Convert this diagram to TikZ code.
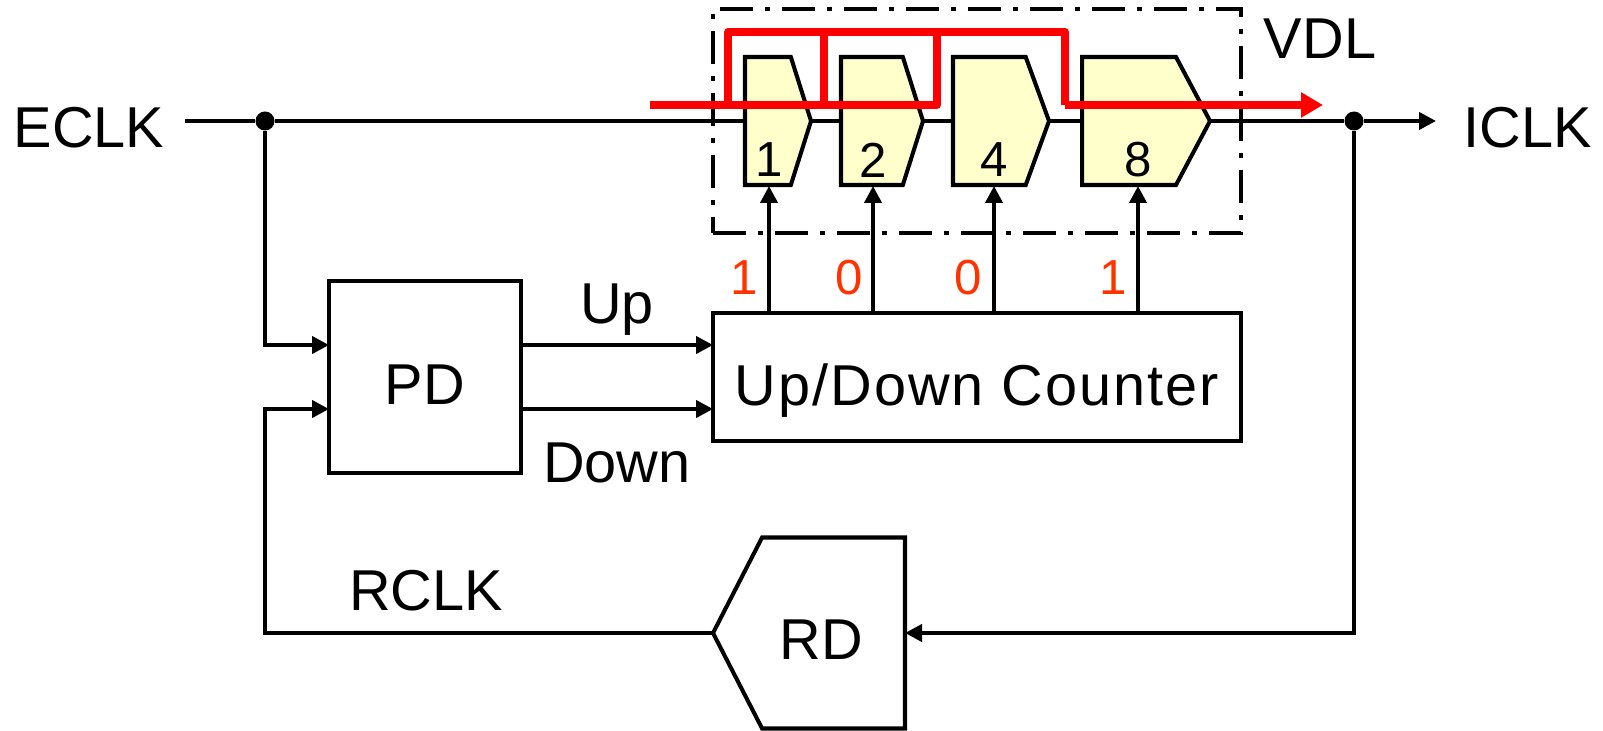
\documentclass[tikz,border=0pt]{standalone}
\usepackage{fontspec}
\setmainfont{Liberation Sans}
\usetikzlibrary{arrows.meta,shapes.symbols}
\definecolor{delayfill}{HTML}{FFFFCC}
\definecolor{bitred}{HTML}{FF3300}
\tikzset{
    wire/.style={line width=1.15pt, -{Triangle[length=1.7mm,width=1.7mm]}},
    plain/.style={line width=1.15pt},
    block/.style={draw, line width=1.15pt, inner sep=0pt, outer sep=0pt},
    delay/.style={block, fill=delayfill, signal, signal to=east, signal from=nowhere,
        minimum height=1.28cm, anchor=west},
    dot/.style={circle, fill=black, inner sep=0pt, minimum size=0.19cm},
    lbl/.style={font=\fontsize{16.4}{17}\selectfont, inner sep=0pt},
    bit/.style={font=\fontsize{14}{14}\selectfont, inner sep=0pt},
    redpath/.style={draw=red, line width=2.2pt, line join=round},
}
\begin{document}
\begin{tikzpicture}
    \useasboundingbox (0,0) rectangle (16.03,7.30);

    % Bordo VDL
    \node[draw, line width=1.3pt, dash pattern=on 3.3mm off 1.2mm on 0.5mm off 1.2mm, inner sep=0pt, minimum width=5.28cm, minimum height=2.24cm] (vdl) at (9.77,6.09) {};
    \node[lbl] (vdllabel) at (13.20,6.91) {VDL};

    % Blocchi
    \node[block, minimum width=1.92cm, minimum height=1.92cm] (pd) at (4.25,3.53) {};
    \node[lbl] (pdlabel) at (4.25,3.45) {PD};
    \node[block, minimum width=5.28cm, minimum height=1.28cm] (counter) at (9.77,3.53) {};
    \node[lbl] (counterlabel) at (9.77,3.39) {\addfontfeature{LetterSpace=3.5}Up/Down Counter};
    \node[block, signal, signal from=nowhere, signal to=west, signal pointer angle=125.6, minimum width=1.92cm, minimum height=1.91cm, anchor=east] (rd) at (9.05,0.97) {};
    \node[lbl] (rdlabel) at (8.21,0.90) {RD};

    % Linee di ritardo
    \node[delay, signal pointer angle=145, minimum width=0.66cm] (d1) at (7.45,6.09) {};
    \node[delay, signal pointer angle=145, minimum width=0.82cm] (d2) at (8.41,6.09) {};
    \node[delay, signal pointer angle=140, minimum width=0.96cm] (d4) at (9.53,6.09) {};
    \node[delay, signal pointer angle=124, minimum width=1.28cm] (d8) at (10.82,6.09) {};
    \node[bit] (n1) at (7.69,5.70) {1};
    \node[bit] (n2) at (8.73,5.70) {2};
    \node[bit] (n4) at (9.94,5.70) {4};
    \node[bit] (n8) at (11.38,5.70) {8};

    % Segnali
    \node[lbl, anchor=east] (eclk) at (1.65,6.02) {ECLK};
    \node[lbl, anchor=west] (iclk) at (14.63,6.02) {ICLK};
    \node[dot] (split) at (2.65,6.09) {};
    \node[dot] (join) at (13.54,6.09) {};
    \coordinate (start) at (1.85,6.09);
    \coordinate (out) at (14.36,6.09);
    \draw[plain] (start) -- (split);
    \draw[plain] (split) -- (d1.west);
    \draw[plain] (d1.east) -- (d2.west);
    \draw[plain] (d2.east) -- (d4.west);
    \draw[plain] (d4.east) -- (d8.west);
    \draw[plain] (d8.east) -- (join);
    \draw[wire] (join) -- (out);

    \coordinate (pdin1) at (pd.west |- 0,3.85);
    \coordinate (pdin2) at (pd.west |- 0,3.21);
    \coordinate (cin1) at (counter.west |- pdin1);
    \coordinate (cin2) at (counter.west |- pdin2);
    \draw[wire] (split) |- (pdin1);
    \draw[wire] (rd.west) -| (split |- pdin2) -- (pdin2);
    \draw[wire] (pd.east |- pdin1) -- (cin1);
    \draw[wire] (pd.east |- pdin2) -- (cin2);
    \draw[wire] (join) |- (rd.east);
    \node[lbl] (up) at (6.17,4.20) {Up};
    \node[lbl] (down) at (6.17,2.67) {Down};
    \node[lbl] (rclk) at (4.26,1.39) {RCLK};

    % Bit di controllo
    \foreach \n/\x in {1/7.69, 2/8.73, 4/9.94, 8/11.38} {
        \coordinate (cnt\n) at (\x,4.17);
        \draw[wire] (cnt\n) -- (\x,5.44);
    }
    \node[bit, bitred] (b1) at (7.44,4.52) {1};
    \node[bit, bitred] (b2) at (8.49,4.52) {0};
    \node[bit, bitred] (b4) at (9.68,4.52) {0};
    \node[bit, bitred] (b8) at (11.13,4.52) {1};

    % Percorso rosso
    \coordinate (ra) at (6.50,6.25);
    \coordinate (rb) at (7.28,6.25);
    \coordinate (rc) at (7.28,6.98);
    \coordinate (rd1) at (8.24,6.98);
    \coordinate (rd2) at (8.24,6.25);
    \coordinate (re) at (9.37,6.25);
    \coordinate (rf) at (9.37,6.98);
    \coordinate (rg) at (10.65,6.98);
    \coordinate (rh) at (10.65,6.25);
    \coordinate (ri) at (13.23,6.25);
    \draw[redpath] (ra) -- (re) -- (rf);
    \draw[redpath] (rb) -- (rc) -- (rg) -- (rh);
    \draw[redpath] (rd1) -- (rd2);
    \draw[redpath, -{Triangle[length=2.2mm,width=2.4mm]}] (rh) -- (ri);
\end{tikzpicture}
\end{document}
